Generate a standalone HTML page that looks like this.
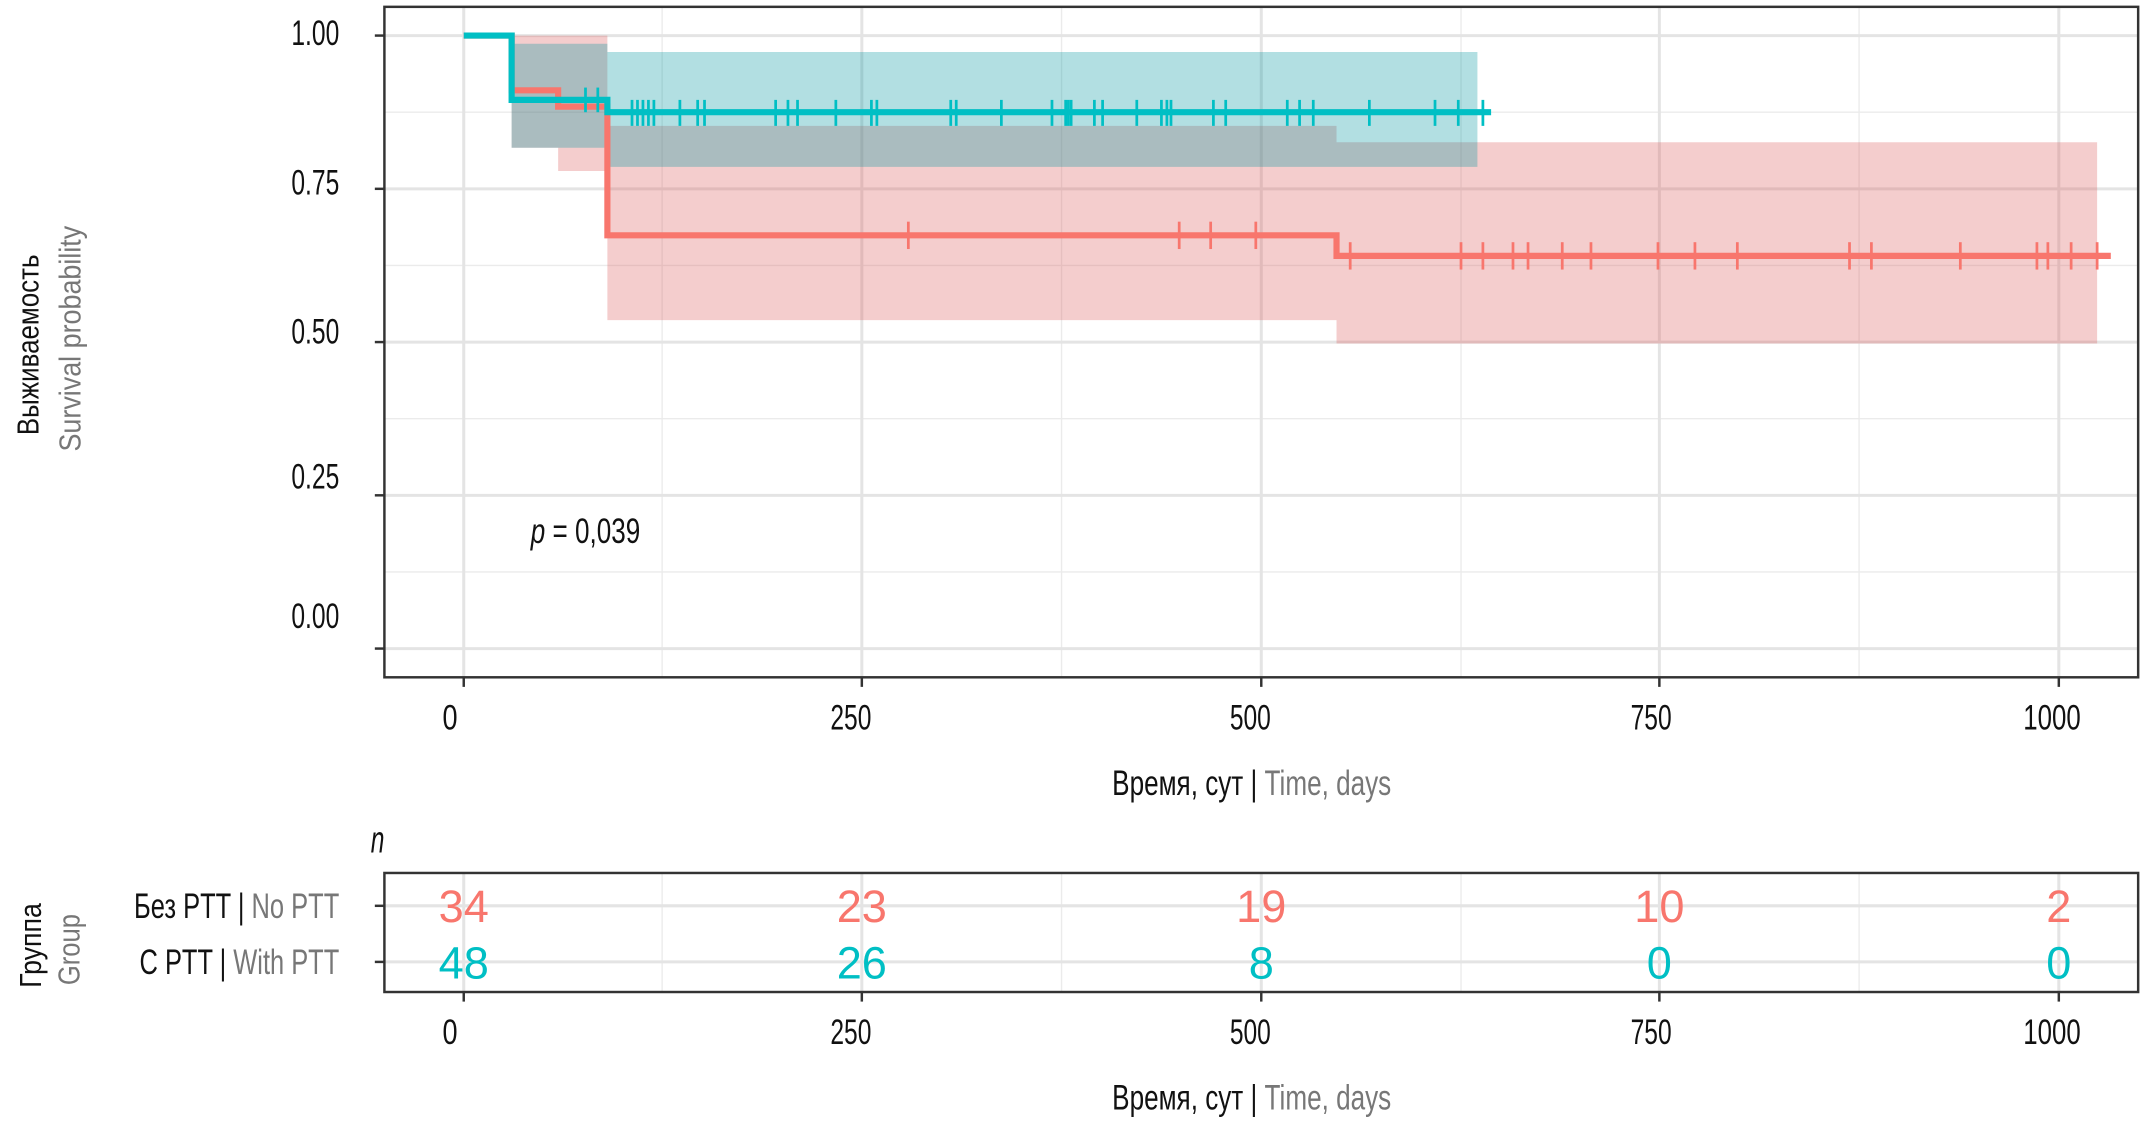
<!DOCTYPE html>
<html><head><meta charset="utf-8"><style>
html,body{margin:0;padding:0;background:#fff;}
svg{display:block;}
text{font-family:"Liberation Sans",sans-serif;}
</style></head><body>
<svg width="2145" height="1122" viewBox="0 0 1568 820" preserveAspectRatio="none" xmlns="http://www.w3.org/2000/svg">
<rect width="1568" height="820" fill="#fff"/>
<g stroke="#ebebeb" stroke-width="1">
<line x1="281" x2="1563" y1="82" y2="82"/><line x1="281" x2="1563" y1="194" y2="194"/><line x1="281" x2="1563" y1="306" y2="306"/><line x1="281" x2="1563" y1="418" y2="418"/>
<line x1="484" x2="484" y1="5" y2="495"/><line x1="776" x2="776" y1="5" y2="495"/><line x1="1068" x2="1068" y1="5" y2="495"/><line x1="1359" x2="1359" y1="5" y2="495"/>
</g>
<g stroke="#e4e4e4" stroke-width="2.2">
<line x1="281" x2="1563" y1="26" y2="26"/><line x1="281" x2="1563" y1="138" y2="138"/><line x1="281" x2="1563" y1="250" y2="250"/><line x1="281" x2="1563" y1="362" y2="362"/><line x1="281" x2="1563" y1="474" y2="474"/>
<line x1="339" x2="339" y1="5" y2="495"/><line x1="630" x2="630" y1="5" y2="495"/><line x1="922" x2="922" y1="5" y2="495"/><line x1="1213" x2="1213" y1="5" y2="495"/><line x1="1505" x2="1505" y1="5" y2="495"/>
</g>
<path d="M374,26 H444 V92 H977 V104 H1533 V251 H977 V234 H444 V125 H408 V108 H374 Z" fill="rgb(220,90,90)" fill-opacity="0.3"/>
<path d="M374,32 H444 V38 H1080 V122 H444 V108 H374 Z" fill="rgb(0,150,160)" fill-opacity="0.3"/>
<path d="M339,26 H374 V66 H408 V78 H444 V172 H977 V187 H1543" fill="none" stroke="#F8766D" stroke-width="4.5"/>
<g stroke="#F8766D" stroke-width="2">
<line x1="664" x2="664" y1="162" y2="182"/><line x1="862" x2="862" y1="162" y2="182"/><line x1="885" x2="885" y1="162" y2="182"/><line x1="918" x2="918" y1="162" y2="182"/>
<line x1="987" x2="987" y1="177" y2="197"/><line x1="1068" x2="1068" y1="177" y2="197"/><line x1="1084" x2="1084" y1="177" y2="197"/><line x1="1106" x2="1106" y1="177" y2="197"/><line x1="1117" x2="1117" y1="177" y2="197"/><line x1="1142" x2="1142" y1="177" y2="197"/><line x1="1163" x2="1163" y1="177" y2="197"/><line x1="1212" x2="1212" y1="177" y2="197"/><line x1="1239" x2="1239" y1="177" y2="197"/><line x1="1270" x2="1270" y1="177" y2="197"/><line x1="1352" x2="1352" y1="177" y2="197"/><line x1="1368" x2="1368" y1="177" y2="197"/><line x1="1433" x2="1433" y1="177" y2="197"/><line x1="1489" x2="1489" y1="177" y2="197"/><line x1="1497" x2="1497" y1="177" y2="197"/><line x1="1514" x2="1514" y1="177" y2="197"/><line x1="1533" x2="1533" y1="177" y2="197"/>
</g>
<path d="M339,26 H374 V73 H444 V82 H1090" fill="none" stroke="#00BFC4" stroke-width="4.5"/>
<g stroke="#00BFC4" stroke-width="2">
<line x1="428" x2="428" y1="64" y2="82"/><line x1="437" x2="437" y1="64" y2="82"/>
<line x1="462" x2="462" y1="73" y2="92"/><line x1="466" x2="466" y1="73" y2="92"/><line x1="470" x2="470" y1="73" y2="92"/><line x1="474" x2="474" y1="73" y2="92"/><line x1="478" x2="478" y1="73" y2="92"/><line x1="497" x2="497" y1="73" y2="92"/><line x1="510" x2="510" y1="73" y2="92"/><line x1="515" x2="515" y1="73" y2="92"/><line x1="567" x2="567" y1="73" y2="92"/><line x1="576" x2="576" y1="73" y2="92"/><line x1="583" x2="583" y1="73" y2="92"/><line x1="611" x2="611" y1="73" y2="92"/><line x1="637" x2="637" y1="73" y2="92"/><line x1="641" x2="641" y1="73" y2="92"/><line x1="695" x2="695" y1="73" y2="92"/><line x1="699" x2="699" y1="73" y2="92"/><line x1="732" x2="732" y1="73" y2="92"/><line x1="769" x2="769" y1="73" y2="92"/><line x1="779" x2="779" y1="73" y2="92"/><line x1="781" x2="781" y1="73" y2="92"/><line x1="783" x2="783" y1="73" y2="92"/><line x1="800" x2="800" y1="73" y2="92"/><line x1="806" x2="806" y1="73" y2="92"/><line x1="831" x2="831" y1="73" y2="92"/><line x1="849" x2="849" y1="73" y2="92"/><line x1="853" x2="853" y1="73" y2="92"/><line x1="856" x2="856" y1="73" y2="92"/><line x1="887" x2="887" y1="73" y2="92"/><line x1="896" x2="896" y1="73" y2="92"/><line x1="941" x2="941" y1="73" y2="92"/><line x1="950" x2="950" y1="73" y2="92"/><line x1="960" x2="960" y1="73" y2="92"/><line x1="1001" x2="1001" y1="73" y2="92"/><line x1="1049" x2="1049" y1="73" y2="92"/><line x1="1066" x2="1066" y1="73" y2="92"/><line x1="1084" x2="1084" y1="73" y2="92"/>
</g>
<rect x="281" y="5" width="1282" height="490" fill="none" stroke="#333" stroke-width="1.8"/>
<g stroke="#333" stroke-width="1.8">
<line x1="274" x2="281" y1="26" y2="26"/><line x1="274" x2="281" y1="138" y2="138"/><line x1="274" x2="281" y1="250" y2="250"/><line x1="274" x2="281" y1="362" y2="362"/><line x1="274" x2="281" y1="474" y2="474"/>
<line x1="339" x2="339" y1="495" y2="502"/><line x1="630" x2="630" y1="495" y2="502"/><line x1="922" x2="922" y1="495" y2="502"/><line x1="1213" x2="1213" y1="495" y2="502"/><line x1="1505" x2="1505" y1="495" y2="502"/>
</g>
<g font-size="26" fill="#111" text-anchor="end">
<text x="248" y="33" textLength="35" lengthAdjust="spacingAndGlyphs">1.00</text>
<text x="248" y="142" textLength="35" lengthAdjust="spacingAndGlyphs">0.75</text>
<text x="248" y="251" textLength="35" lengthAdjust="spacingAndGlyphs">0.50</text>
<text x="248" y="357" textLength="35" lengthAdjust="spacingAndGlyphs">0.25</text>
<text x="248" y="459" textLength="35" lengthAdjust="spacingAndGlyphs">0.00</text>
</g>
<g font-size="26" fill="#111" text-anchor="middle">
<text x="329" y="533" textLength="11" lengthAdjust="spacingAndGlyphs">0</text>
<text x="622" y="533" textLength="30" lengthAdjust="spacingAndGlyphs">250</text>
<text x="914" y="533" textLength="30" lengthAdjust="spacingAndGlyphs">500</text>
<text x="1207" y="533" textLength="30" lengthAdjust="spacingAndGlyphs">750</text>
<text x="1500" y="533" textLength="42" lengthAdjust="spacingAndGlyphs">1000</text>
</g>
<text x="388" y="397" font-size="26" fill="#111" textLength="80" lengthAdjust="spacingAndGlyphs"><tspan font-style="italic">p</tspan> = 0,039</text>
<text x="813" y="581" font-size="26" textLength="204" lengthAdjust="spacingAndGlyphs"><tspan fill="#111">Время, сут | </tspan><tspan fill="#777">Time, days</tspan></text>
<text transform="translate(28,318) rotate(-90)" font-size="22" fill="#111" textLength="132" lengthAdjust="spacingAndGlyphs">Выживаемость</text>
<text transform="translate(59,330) rotate(-90)" font-size="22" fill="#777" textLength="165" lengthAdjust="spacingAndGlyphs">Survival probability</text>
<text x="271" y="623" font-size="28" font-style="italic" fill="#111" textLength="10" lengthAdjust="spacingAndGlyphs">n</text>
<g stroke="#ebebeb" stroke-width="1">
<line x1="484" x2="484" y1="638" y2="725"/><line x1="776" x2="776" y1="638" y2="725"/><line x1="1068" x2="1068" y1="638" y2="725"/><line x1="1359" x2="1359" y1="638" y2="725"/>
</g>
<g stroke="#e4e4e4" stroke-width="2.2">
<line x1="281" x2="1563" y1="662" y2="662"/><line x1="281" x2="1563" y1="703" y2="703"/>
<line x1="339" x2="339" y1="638" y2="725"/><line x1="630" x2="630" y1="638" y2="725"/><line x1="922" x2="922" y1="638" y2="725"/><line x1="1213" x2="1213" y1="638" y2="725"/><line x1="1505" x2="1505" y1="638" y2="725"/>
</g>
<rect x="281" y="638" width="1282" height="87" fill="none" stroke="#333" stroke-width="1.8"/>
<g stroke="#333" stroke-width="1.8">
<line x1="274" x2="281" y1="662" y2="662"/><line x1="274" x2="281" y1="703" y2="703"/>
<line x1="339" x2="339" y1="725" y2="732"/><line x1="630" x2="630" y1="725" y2="732"/><line x1="922" x2="922" y1="725" y2="732"/><line x1="1213" x2="1213" y1="725" y2="732"/><line x1="1505" x2="1505" y1="725" y2="732"/>
</g>
<g font-size="33" text-anchor="middle">
<text x="339" y="674" fill="#F8766D">34</text><text x="630" y="674" fill="#F8766D">23</text><text x="922" y="674" fill="#F8766D">19</text><text x="1213" y="674" fill="#F8766D">10</text><text x="1505" y="674" fill="#F8766D">2</text>
<text x="339" y="715" fill="#00BFC4">48</text><text x="630" y="715" fill="#00BFC4">26</text><text x="922" y="715" fill="#00BFC4">8</text><text x="1213" y="715" fill="#00BFC4">0</text><text x="1505" y="715" fill="#00BFC4">0</text>
</g>
<text x="98" y="671" font-size="26" textLength="150" lengthAdjust="spacingAndGlyphs"><tspan fill="#111">Без PTT | </tspan><tspan fill="#777">No PTT</tspan></text>
<text x="102" y="712" font-size="26" textLength="146" lengthAdjust="spacingAndGlyphs"><tspan fill="#111">С PTT | </tspan><tspan fill="#777">With PTT</tspan></text>
<g font-size="26" fill="#111" text-anchor="middle">
<text x="329" y="763" textLength="11" lengthAdjust="spacingAndGlyphs">0</text>
<text x="622" y="763" textLength="30" lengthAdjust="spacingAndGlyphs">250</text>
<text x="914" y="763" textLength="30" lengthAdjust="spacingAndGlyphs">500</text>
<text x="1207" y="763" textLength="30" lengthAdjust="spacingAndGlyphs">750</text>
<text x="1500" y="763" textLength="42" lengthAdjust="spacingAndGlyphs">1000</text>
</g>
<text x="813" y="811" font-size="26" textLength="204" lengthAdjust="spacingAndGlyphs"><tspan fill="#111">Время, сут | </tspan><tspan fill="#777">Time, days</tspan></text>
<text transform="translate(30,722) rotate(-90)" font-size="22" fill="#111" textLength="62" lengthAdjust="spacingAndGlyphs">Группа</text>
<text transform="translate(58,720) rotate(-90)" font-size="22" fill="#777" textLength="52" lengthAdjust="spacingAndGlyphs">Group</text>
</svg>
</body></html>
